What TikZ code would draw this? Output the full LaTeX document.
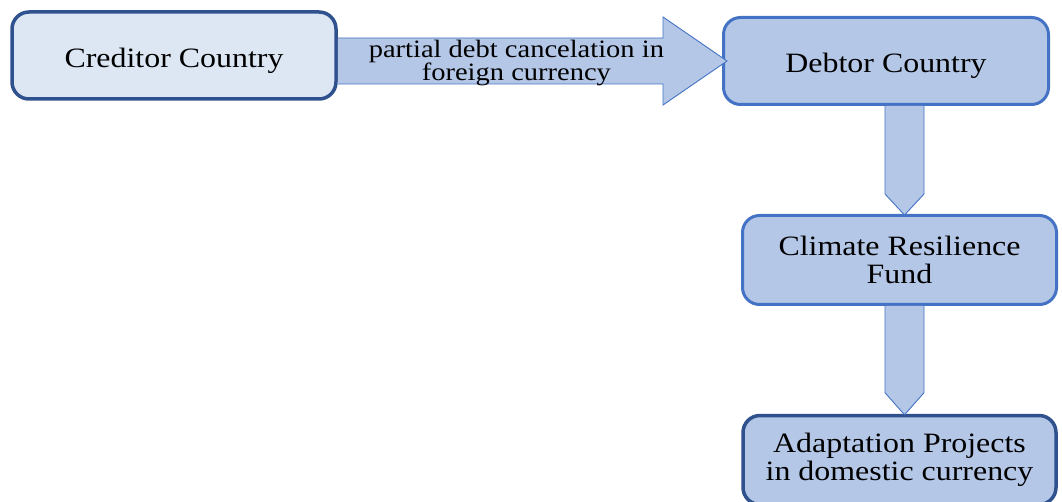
\documentclass[tikz,border=0pt]{standalone}
\usepackage{fontspec}
\setmainfont{Liberation Serif}[FakeStretch=1.14]
\usetikzlibrary{calc}
\definecolor{darkline}{HTML}{2F528F}
\definecolor{midline}{HTML}{4472C4}
\definecolor{midfill}{HTML}{B4C7E7}
\definecolor{lightfill}{HTML}{DDE7F4}

\begin{document}
\begin{tikzpicture}[x=1pt,y=-1pt,inner sep=0pt,
  box/.style={rectangle,draw=midline,fill=midfill,line width=3pt,rounded corners=17pt,
    align=center,font=\fontsize{28}{28}\selectfont},
  darkbox/.style={box,draw=darkline,line width=3.5pt},
  oneline/.style={text height=24pt,text depth=0pt},
  blockarrow/.style={draw=midline,fill=midfill,line width=0.9pt,line join=miter},
  arrowtext/.style={align=center,font=\fontsize{25}{23}\selectfont}]
\useasboundingbox (0,0) rectangle (1062,502);
\node[darkbox,oneline,fill=lightfill,minimum width=324pt,minimum height=87pt] (cred) at (174,55.5) {Creditor Country};
\node[box,oneline,minimum width=325pt,minimum height=87pt] (debtor) at (886,61) {Debtor Country};
\node[box,minimum width=314pt,minimum height=89pt] (fund) at (899.5,260) {Climate Resilience\\Fund};
\node[darkbox,minimum width=313pt,minimum height=89pt] (projects) at (899.5,460) {Adaptation Projects\\in domestic currency};
% horizontal block arrow
\coordinate (h0) at (cred.east |- debtor.west);
\coordinate (h1) at ([xshift=5pt]debtor.west);
\path[blockarrow] ($(h0)+(0,-23)$) -- ($(h1)+(-64,-23)$) -- ($(h1)+(-64,-44)$) -- (h1)
  -- ($(h1)+(-64,44)$) -- ($(h1)+(-64,23)$) -- ($(h0)+(0,23)$);
\node[arrowtext] (cancel) at ($(h0)!.5!(h1)+(-16,2)$) {partial debt cancelation in\\foreign currency};
% vertical block arrows
\coordinate (v0) at ([xshift=5pt]debtor.south -| fund.north);
\coordinate (v1) at ([xshift=5pt,yshift=-1pt]fund.north);
\path[blockarrow] ($(v0)+(-19.5,0)$) -- ($(v1)+(-19.5,-21)$) -- (v1) -- ($(v1)+(19.5,-21)$) -- ($(v0)+(19.5,0)$);
\coordinate (w0) at ([xshift=5pt]fund.south);
\coordinate (w1) at ([xshift=5pt,yshift=-1pt]projects.north);
\path[blockarrow] ($(w0)+(-19.5,0)$) -- ($(w1)+(-19.5,-22)$) -- (w1) -- ($(w1)+(19.5,-22)$) -- ($(w0)+(19.5,0)$);
\end{tikzpicture}
\end{document}
